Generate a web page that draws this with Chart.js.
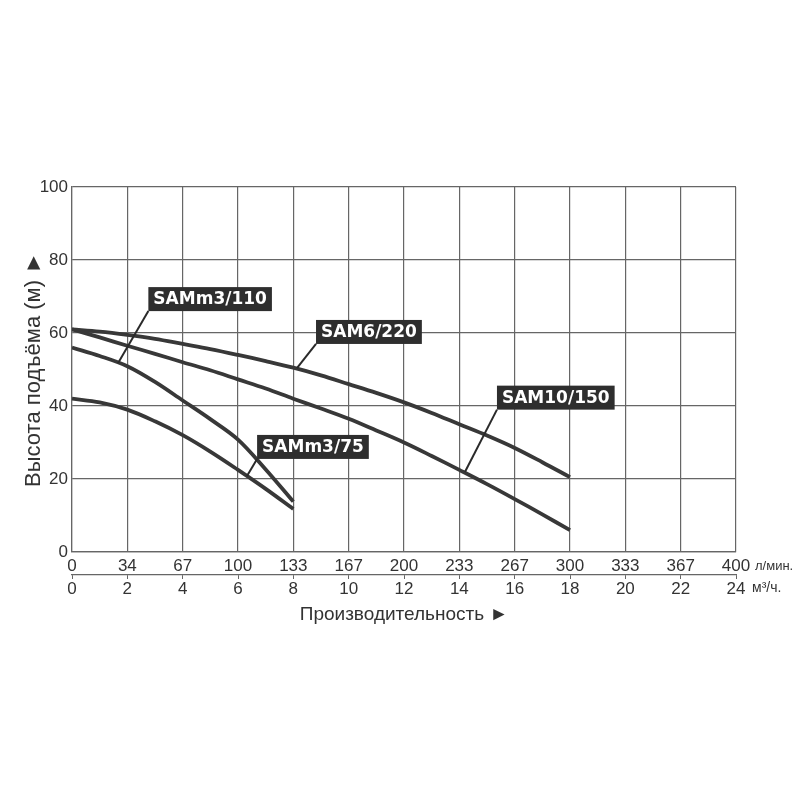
<!DOCTYPE html>
<html>
<head>
<meta charset="utf-8">
<script src="https://cdn.jsdelivr.net/npm/chart.js@4.4.0/dist/chart.umd.min.js"></script>
<style>
  html, body { margin: 0; padding: 0; background: #fff; }
</style>
</head>
<body>
<canvas id="graficaBombas" width="800" height="800"></canvas>
<script>
// caudal en l/min (eje principal)
const caudal = [0, 16.7, 33.3, 50, 66.7, 83.3, 100, 116.7, 133.3, 150, 166.7, 183.3, 200, 216.7, 233.3, 250, 266.7, 283.3, 300];

// altura (m) de cada bomba
const sam6_220 = [61, 60.4, 59.5, 58.4, 57, 55.6, 54, 52.3, 50.5, 48.4, 46, 43.6, 41, 38.1, 35, 31.9, 28.5, 24.6, 20.5];
const sam10_150 = [61, 58.8, 56.5, 54.3, 52, 49.8, 47.3, 44.8, 42, 39.3, 36.5, 33.3, 30, 26.3, 22.5, 18.6, 14.5, 10.3, 6];
const samm3_110 = [56, 53.7, 50.9, 46.6, 41.5, 36.4, 30.8, 22.6, 13.8];
const samm3_75 = [42, 41, 39, 35.8, 32, 27.5, 22.5, 17.3, 11.8];

// etiquetas de los ejes
const etiquetasLmin = ['0', '34', '67', '100', '133', '167', '200', '233', '267', '300', '333', '367', '400'];
const etiquetasM3h = ['0', '2', '4', '6', '8', '10', '12', '14', '16', '18', '20', '22', '24'];
const etiquetasAltura = [0, 20, 40, 60, 80, 100];

// rótulos de las curvas
const nombres = ['SAMm3/110', 'SAM6/220', 'SAM10/150', 'SAMm3/75'];
const rotuloEn = [[46, 66], [147, 57], [256, 39], [111.5, 25.5]];
const rotuloApunta = [[27.7, 51.7], [135.5, 50.4], [236.7, 21.9], [105.4, 20.8]];

const GRIS = '#666';
const TINTA = '#333';
const fuenteEje = { family: '"Liberation Sans", Arial, sans-serif', size: 17 };

function puntos(valores) {
  return valores.map((y, i) => ({ x: caudal[i], y: y }));
}

function serie(valores) {
  return {
    data: puntos(valores),
    borderColor: '#383838',
    borderWidth: 3.8,
    pointRadius: 0,
    fill: false,
    tension: 0.35,
  };
}

const rotulos = {
  id: 'rotulos',
  afterDatasetsDraw(chart) {
    const ctx = chart.ctx;
    const x = chart.scales.x;
    const y = chart.scales.y;
    ctx.save();
    ctx.font = 'bold 17px "DejaVu Sans", sans-serif';
    nombres.forEach((nombre, i) => {
      const bx = x.getPixelForValue(rotuloEn[i][0]);
      const by = y.getPixelForValue(rotuloEn[i][1]);
      const px = x.getPixelForValue(rotuloApunta[i][0]);
      const py = y.getPixelForValue(rotuloApunta[i][1]);

      ctx.strokeStyle = '#2a2a2a';
      ctx.lineWidth = 2;
      ctx.beginPath();
      ctx.moveTo(bx, by);
      ctx.lineTo(px, py);
      ctx.stroke();

      const ancho = ctx.measureText(nombre).width + 10;
      ctx.fillStyle = '#2e2e2e';
      ctx.fillRect(bx, by - 24, ancho, 24);
      ctx.fillStyle = '#fff';
      ctx.textBaseline = 'middle';
      ctx.textAlign = 'left';
      ctx.fillText(nombre, bx + 5, by - 11.5);
    });
    ctx.restore();
  },
  afterDraw(chart) {
    const ctx = chart.ctx;
    const x = chart.scales.x;
    const x2 = chart.scales.x2;
    ctx.save();
    ctx.fillStyle = TINTA;
    ctx.textBaseline = 'middle';
    ctx.textAlign = 'left';
    ctx.font = '13px "Liberation Sans", Arial, sans-serif';
    ctx.fillText('л/мин.', x.right + 19, x.top + 14);
    ctx.font = '14px "Liberation Sans", Arial, sans-serif';
    ctx.fillText('м³/ч.', x.right + 16, x2.top + 13);
    ctx.restore();
  },
};

new Chart(document.getElementById('graficaBombas'), {
  type: 'line',
  data: {
    datasets: [serie(sam6_220), serie(sam10_150), serie(samm3_110), serie(samm3_75)],
  },
  options: {
    responsive: false,
    animation: false,
    layout: { padding: { top: 187, left: 21, right: 64, bottom: 174 } },
    plugins: { legend: { display: false }, tooltip: { enabled: false } },
    scales: {
      x: {
        type: 'linear',
        position: 'bottom',
        weight: 0,
        min: 0,
        max: 400,
        afterBuildTicks: s => { s.ticks = etiquetasLmin.map((_, i) => ({ value: 400 / 12 * i })); },
        afterFit: s => { s.height = 23; },
        grid: { color: GRIS, lineWidth: 1.2, drawTicks: false },
        border: { color: GRIS, width: 1.2 },
        ticks: {
          autoSkip: false,
          maxRotation: 0,
          padding: 4,
          color: TINTA,
          font: fuenteEje,
          callback: (v, i) => etiquetasLmin[i],
        },
      },
      x2: {
        type: 'linear',
        position: 'bottom',
        weight: 1,
        min: 0,
        max: 24,
        afterBuildTicks: s => { s.ticks = etiquetasM3h.map(t => ({ value: Number(t) })); },
        afterFit: s => { s.height = 51; },
        grid: { drawOnChartArea: false, color: GRIS, tickLength: 4 },
        border: { color: GRIS, width: 1.2 },
        ticks: {
          autoSkip: false,
          maxRotation: 0,
          padding: 0,
          color: TINTA,
          font: fuenteEje,
          callback: (v, i) => etiquetasM3h[i],
        },
        title: {
          display: true,
          text: 'Производительность ►',
          color: TINTA,
          font: { family: '"Liberation Sans", Arial, sans-serif', size: 19 },
          padding: 0,
        },
      },
      y: {
        min: 0,
        max: 100,
        afterBuildTicks: s => { s.ticks = etiquetasAltura.map(v => ({ value: v })); },
        afterFit: s => { s.width = 51; },
        grid: { color: GRIS, lineWidth: 1.2, drawTicks: false },
        border: { color: GRIS, width: 1.2 },
        ticks: { padding: 4, color: TINTA, font: fuenteEje },
        title: {
          display: true,
          text: 'Высота подъёма (м) ►',
          color: TINTA,
          font: { family: '"Liberation Sans", Arial, sans-serif', size: 22 },
          padding: 0,
        },
      },
    },
  },
  plugins: [rotulos],
});
</script>
</body>
</html>
